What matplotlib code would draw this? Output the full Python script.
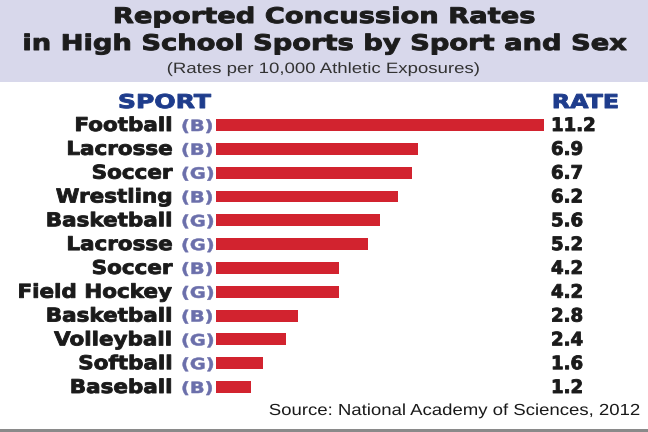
import matplotlib.pyplot as plt
from matplotlib.patches import Rectangle
from matplotlib.transforms import Affine2D, blended_transform_factory
from matplotlib import patheffects

sports = ['Football', 'Lacrosse', 'Soccer', 'Wrestling', 'Basketball', 'Lacrosse',
          'Soccer', 'Field Hockey', 'Basketball', 'Volleyball', 'Softball', 'Baseball']
sexes = ['B', 'B', 'G', 'B', 'G', 'G', 'B', 'G', 'B', 'G', 'G', 'B']
rates = [11.2, 6.9, 6.7, 6.2, 5.6, 5.2, 4.2, 4.2, 2.8, 2.4, 1.6, 1.2]

W, H = 648, 432


class Wide(patheffects.AbstractPathEffect):
    """stretch text sideways around x0 (pixels) and thicken the strokes"""

    def __init__(self, sx, x0, lw=0.0):
        super().__init__()
        self.sx, self.x0, self.lw = sx, x0, lw

    def draw_path(self, renderer, gc, tpath, affine, rgbFace=None):
        aff = affine + Affine2D().translate(-self.x0, 0).scale(self.sx, 1).translate(self.x0, 0)
        gc0 = renderer.new_gc()
        gc0.copy_properties(gc)
        if self.lw > 0 and rgbFace is not None:
            gc0.set_linewidth(self.lw)
            gc0.set_foreground(rgbFace)
            gc0.set_joinstyle('round')
        renderer.draw_path(gc0, tpath, aff, rgbFace)
        gc0.restore()


fig = plt.figure(figsize=(9, 6), dpi=72)
fig.patch.set_facecolor('white')

# header band and bottom rule
fig.patches.append(Rectangle((0, 1 - 82 / H), 1, 82 / H, transform=fig.transFigure,
                             facecolor='#d8d8eb', edgecolor='none', zorder=0))
fig.patches.append(Rectangle((0, 0), 1, 3 / H, transform=fig.transFigure,
                             facecolor='#8a8a8a', edgecolor='none', zorder=0))

bold = dict(family='DejaVu Sans', fontweight='bold')


def ftext(x, y, s, ha, size, sx, lw, color, **kw):
    fig.text(x / W, 1 - y / H, s, ha=ha, va='baseline', fontsize=size, color=color,
             path_effects=[Wide(sx, x, lw)], **kw)


ftext(324, 23, 'Reported Concussion Rates', 'center', 21.5, 1.27, 1.0, '#1c1c1c', **bold)
ftext(324, 50, 'in High School Sports by Sport and Sex', 'center', 21.5, 1.27, 1.0,
      '#1c1c1c', **bold)
ftext(324, 73, '(Rates per 10,000 Athletic Exposures)', 'center', 15, 1.24, 0,
      '#333333', family='Liberation Sans')

ftext(164.5, 108, 'SPORT', 'center', 19, 1.32, 1.0, '#1e3c8c', **bold)
ftext(585.5, 108, 'RATE', 'center', 19, 1.25, 1.0, '#1e3c8c', **bold)

# bar axes: x 216..544 px, rows centred 125..387 px
step = (387 - 125) / 11
top = 125 - step / 2
bot = 387 + step / 2
ax = fig.add_axes([216 / W, 1 - bot / H, 328 / W, (bot - top) / H])
ax.barh(range(len(rates)), rates, height=0.5, color='#d2232f')
ax.set_xlim(0, 11.2)
ax.set_ylim(len(rates) - 0.5, -0.5)
ax.axis('off')

tr = blended_transform_factory(fig.transFigure, ax.transData)
off = 6 / step
for i, (name, sex, r) in enumerate(zip(sports, sexes, rates)):
    ax.text(173 / W, i + off, name, transform=tr, ha='right', va='baseline',
            fontsize=19, color='#1a1a1a', path_effects=[Wide(1.13, 173, 0.9)], **bold)
    ax.text(181 / W, i + off, '(' + sex + ')', transform=tr, ha='left', va='baseline',
            fontsize=15.5, color='#6b6fab', path_effects=[Wide(1.25, 181, 0.5)], **bold)
    ax.text(551 / W, i + off, f'{r:.1f}', transform=tr, ha='left', va='baseline',
            fontsize=18.5, color='#1a1a1a', path_effects=[Wide(0.98, 551, 0.9)], **bold)

ftext(640, 415, 'Source: National Academy of Sciences, 2012', 'right', 16, 1.16, 0,
      '#1a1a1a', family='Liberation Sans')

fig.savefig('out.png', dpi=72)
